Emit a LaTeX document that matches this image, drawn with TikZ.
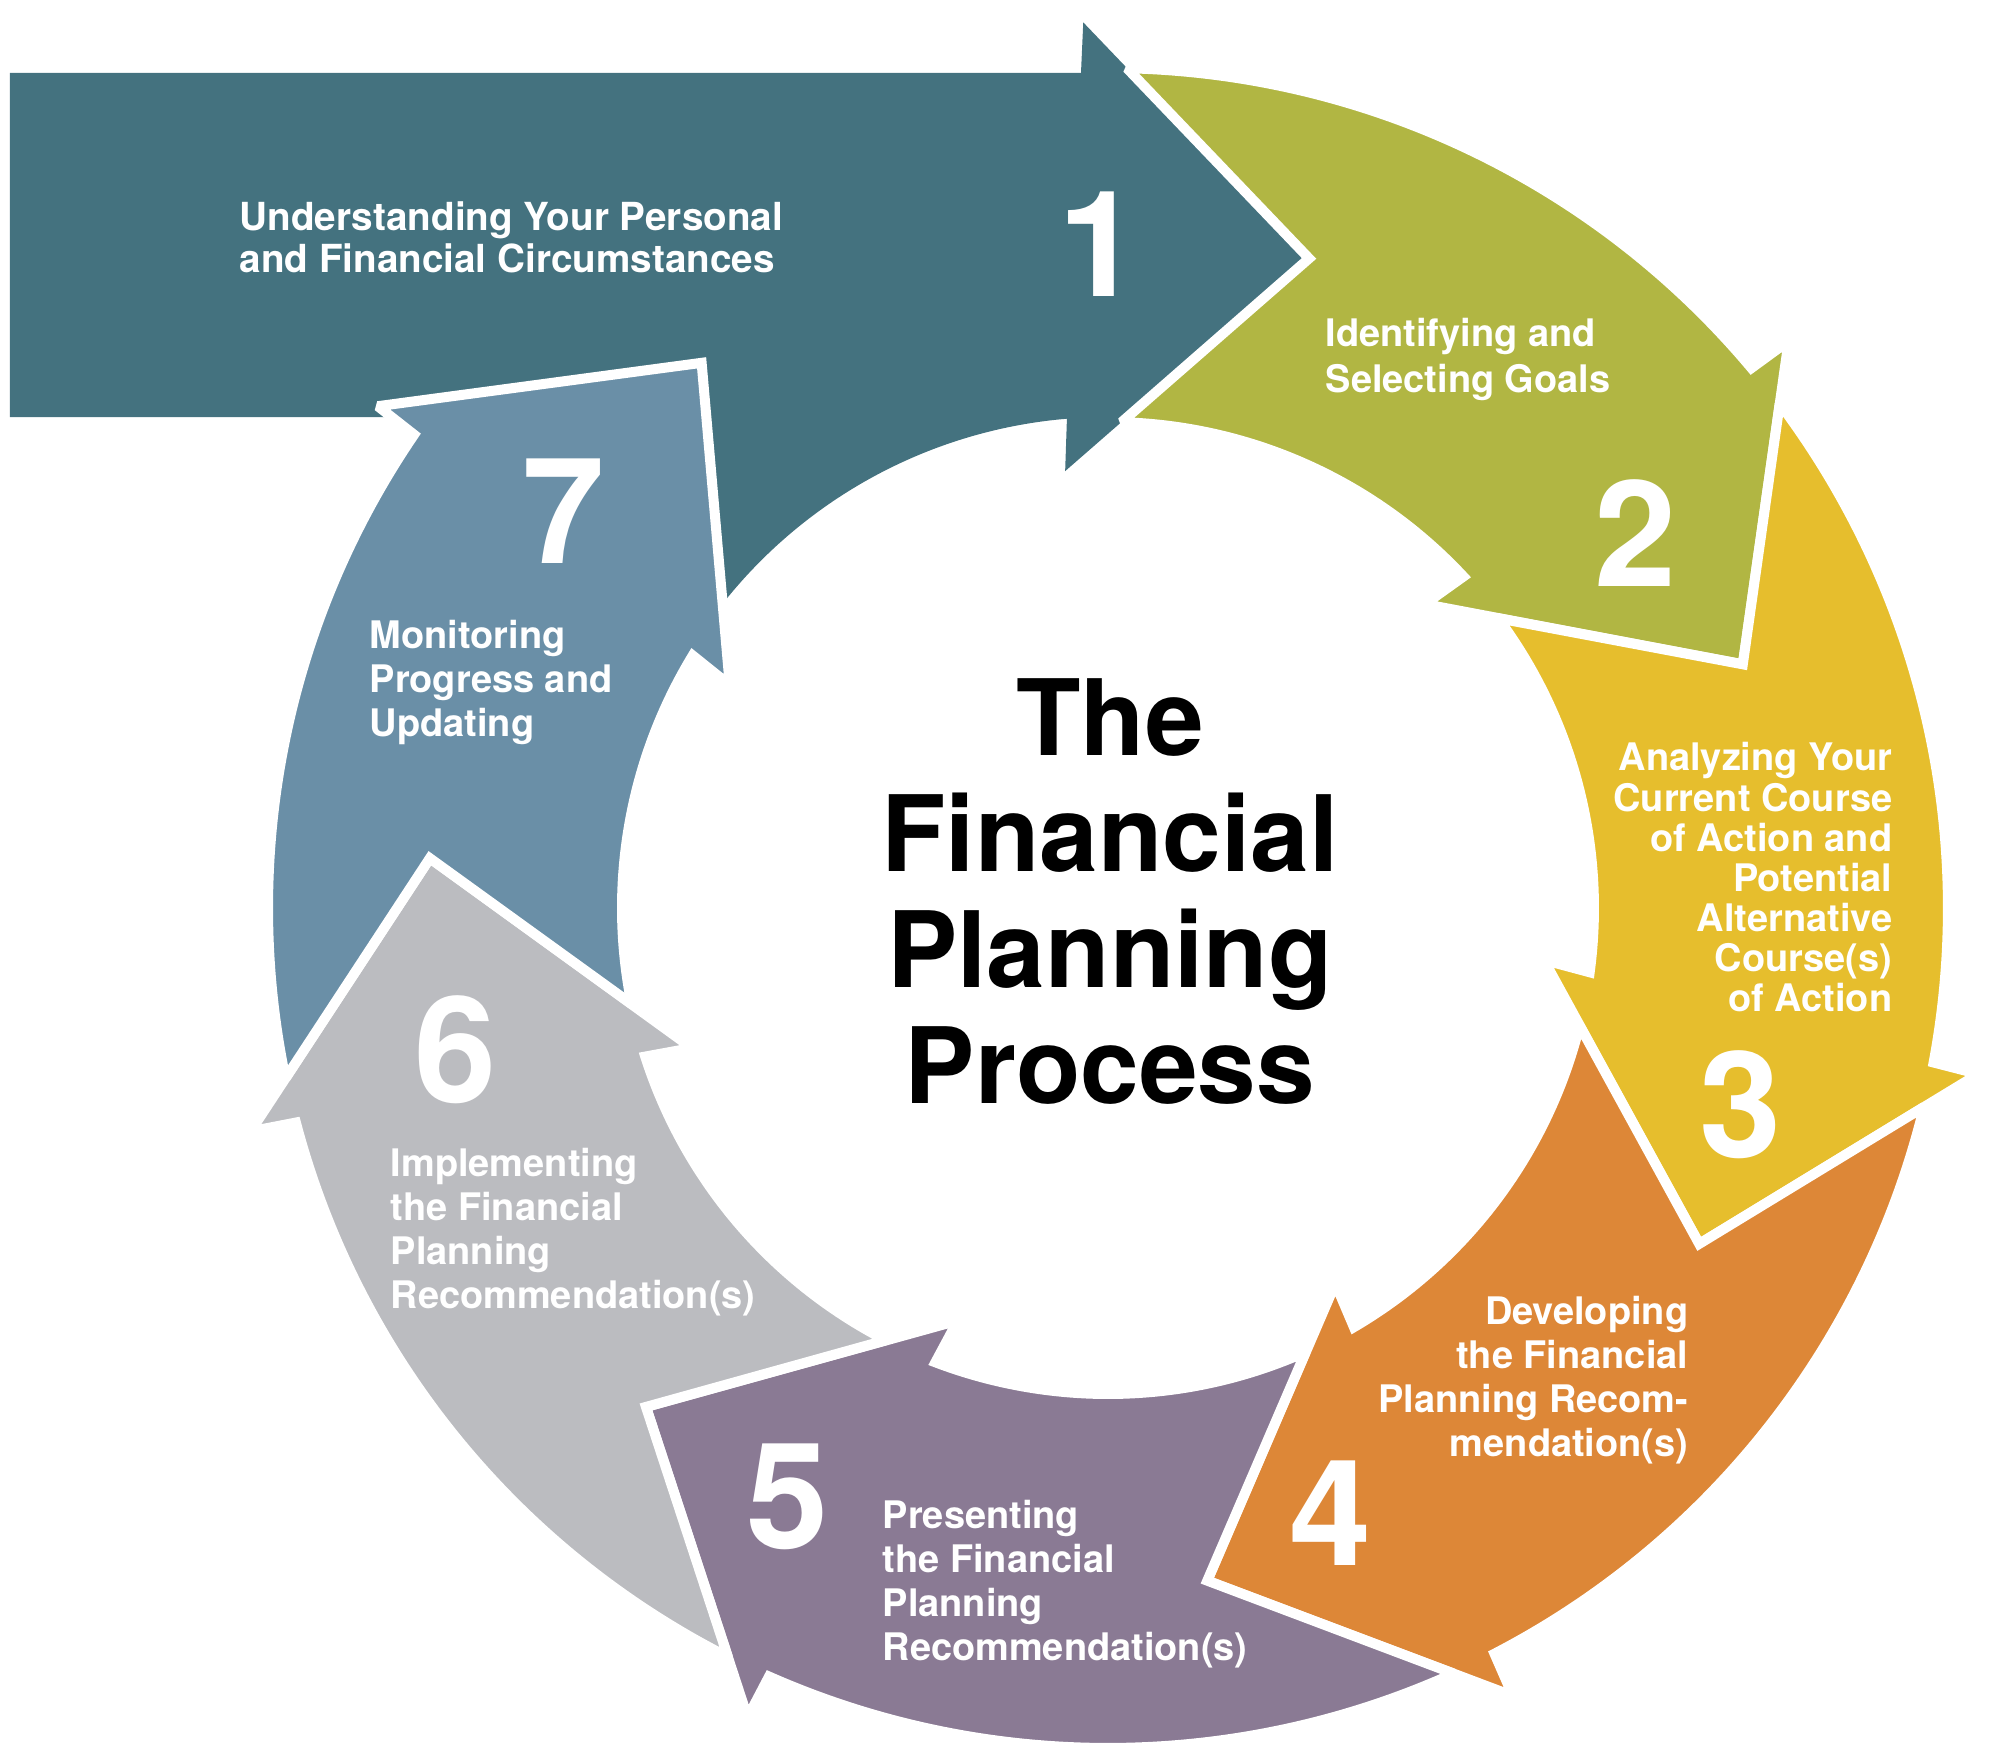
\documentclass[tikz,border=0pt]{standalone}
\usepackage{fontspec}
\setmainfont{TeX Gyre Heros}
\usepackage{tikz}
\definecolor{StepOne}{HTML}{44727F}
\definecolor{StepTwo}{HTML}{B1B643}
\definecolor{StepThree}{HTML}{E6BE2D}
\definecolor{StepFour}{HTML}{DD8737}
\definecolor{StepFive}{HTML}{8A7A94}
\definecolor{StepSix}{HTML}{BBBCC0}
\definecolor{StepSeven}{HTML}{6A8FA7}
% ring arrow: colour, tip angle of the previous arrow, own tip angle
\newcommand{\ringarrow}[3]{\path[fill=#1, draw=white, line width=1mm, miter limit=2]
  ({#2+15.9}:8.40) arc[start angle={#2+15.9}, end angle={#3+19}, radius=8.40]
  -- ({#3+18.8}:8.86) -- (#3:6.80) -- ({#3+22.8}:4.39) -- ({#3+22}:4.86)
  arc[start angle={#3+22}, end angle={#2+15.6}, radius=4.86]
  -- (#2:6.80) -- cycle;}

\begin{document}
\begin{tikzpicture}[
  steptext/.style={text=white, inner sep=0pt,
    font=\bfseries\fontsize{10.8}{12.5}\selectfont},
  stepnum/.style={text=white, inner sep=0pt,
    font=\bfseries\fontsize{42}{42}\selectfont},
]
\useasboundingbox (-11.08,-8.46) rectangle (8.94,9.08);

%% ── Step 1: banner arrow ─────────────────────────────────────────────────
\fill[StepOne] (-10.98,8.35) -- (-0.27,8.35) -- (91.6:8.86) -- (72.8:6.80)
  -- (95.6:4.39) -- (-0.41,4.91) -- (-10.98,4.91) -- cycle;
\fill[StepOne] (93:4.91) arc[start angle=93, end angle=147, radius=4.91]
  -- (147:8.35) arc[start angle=147, end angle=93, radius=8.35] -- cycle;

%% ── Steps 2 to 7: ring arrows ────────────────────────────────────────────
\ringarrow{StepTwo}{72.8}{21.0}
\ringarrow{StepThree}{21.0}{-29.6}
\ringarrow{StepFour}{-29.6}{-81.6}
\ringarrow{StepFive}{-81.6}{-132.8}
\ringarrow{StepSix}{-132.8}{-184.2}
\ringarrow{StepSeven}{-184.2}{-233.3}

%% ── Step numbers ─────────────────────────────────────────────────────────
\node[stepnum] (num1) at (-0.08,6.64) {1};
\node[stepnum] (num2) at (5.28,3.75) {2};
\node[stepnum] (num3) at (6.33,-1.97) {3};
\node[stepnum] (num4) at (2.23,-6.05) {4};
\node[stepnum] (num5) at (-3.20,-5.89) {5};
\node[stepnum] (num6) at (-6.52,-1.42) {6};
\node[stepnum] (num7) at (-5.44,3.97) {7};

%% ── Step labels ──────────────────────────────────────────────────────────
\node[steptext, anchor=north west, align=left,
  font=\bfseries\fontsize{11}{12}\selectfont] (lab1) at (-8.69,7.07)
  {Understanding Your Personal\\and Financial Circumstances};
\node[steptext, anchor=north west, align=left,
  font=\bfseries\fontsize{10.8}{13}\selectfont] (lab2) at (2.17,5.90)
  {Identifying and\\Selecting Goals};
\node[steptext, anchor=north east, align=right,
  font=\bfseries\fontsize{10.8}{11.4}\selectfont] (lab3) at (7.85,1.66)
  {Analyzing Your\\Current Course\\of Action and\\Potential\\Alternative\\Course(s)\\of Action};
\node[steptext, anchor=north east, align=right] (lab4) at (5.81,-3.88)
  {Developing\\the Financial\\Planning Recom-\\mendation(s)};
\node[steptext, anchor=north west, align=left] (lab5) at (-2.26,-5.92)
  {Presenting\\the Financial\\Planning\\Recommendation(s)};
\node[steptext, anchor=north west, align=left] (lab6) at (-7.18,-2.40)
  {Implementing\\the Financial\\Planning\\Recommendation(s)};
\node[steptext, anchor=north west, align=left] (lab7) at (-7.39,2.88)
  {Monitoring\\Progress and\\Updating};

%% ── Title ────────────────────────────────────────────────────────────────
\node[inner sep=0pt, align=center, font=\bfseries\fontsize{30}{33}\selectfont]
  (title) at (0.02,0.16) {The\\Financial\\Planning\\Process};

\end{tikzpicture}
\end{document}
